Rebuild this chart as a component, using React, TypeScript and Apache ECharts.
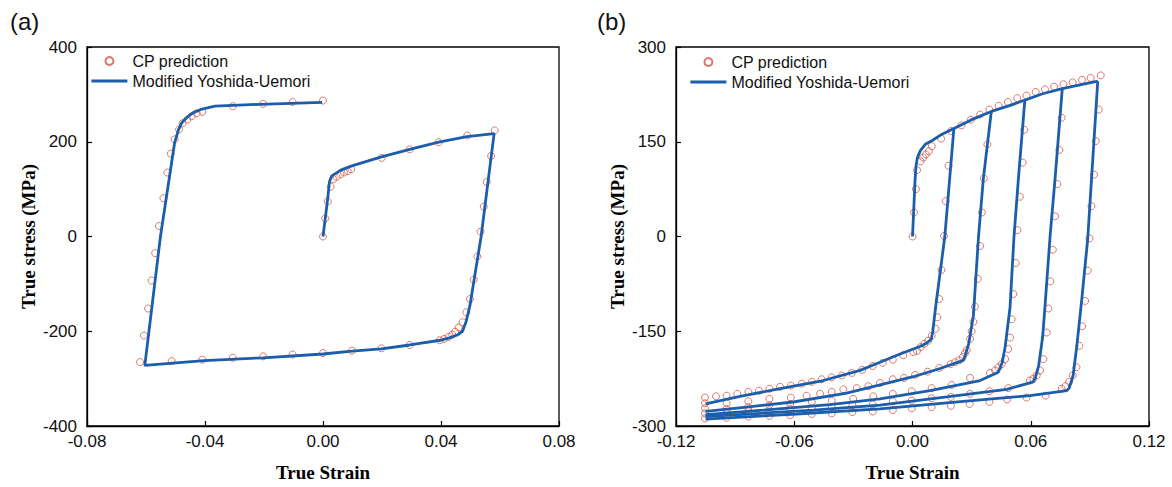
import React, { useEffect, useRef } from "react";
import * as echarts from "echarts";

// ---------- Panel (a) ----------
const xTicksA = [-0.08, -0.04, 0.0, 0.04, 0.08];
const yTicksA = [-400, -200, 0, 200, 400];

const cpA: number[][] = [
  [0, 0], [0.00075, 38], [0.0016, 74], [0.0026, 105], [0.0035, 121], [0.0046, 126], [0.0059, 131], [0.0071, 135], [0.0084, 138], [0.0096, 142],
  [0.0199, 166], [0.0294, 184], [0.0392, 199], [0.0489, 213], [0.0582, 224],
  [0.057, 170], [0.0555, 115], [0.0545, 63], [0.0534, 10], [0.0523, -42], [0.0511, -91], [0.0498, -132], [0.0486, -160], [0.0473, -181], [0.046, -192],
  [0.0448, -201], [0.0438, -207], [0.0426, -212], [0.0411, -216], [0.0396, -219],
  [0.0294, -229], [0.0198, -236], [0.0098, -241], [0, -246], [-0.0103, -249], [-0.0203, -253], [-0.0306, -256], [-0.0409, -260], [-0.0513, -263], [-0.062, -265],
  [-0.0607, -209], [-0.0593, -152], [-0.0581, -93], [-0.0569, -35], [-0.0556, 22], [-0.0541, 81], [-0.0528, 135], [-0.0516, 175], [-0.0503, 205],
  [-0.0488, 226], [-0.0476, 239], [-0.046, 247], [-0.0445, 254], [-0.0428, 260], [-0.0409, 263], [-0.0306, 275], [-0.0203, 280], [-0.0103, 284], [0, 287],
];

const myA: number[][] = [
  [0, 0], [0.0008, 40], [0.0016, 80], [0.0022, 116], [0.003, 128], [0.006, 140], [0.0098, 149], [0.0198, 168], [0.0294, 184], [0.0392, 199], [0.0488, 211], [0.058, 217],
  [0.0536, 0], [0.0498, -146], [0.0485, -180], [0.0473, -200], [0.0455, -208], [0.0429, -214], [0.0398, -219], [0.0294, -229], [0.0198, -237], [0.0098, -242],
  [0, -248], [-0.0203, -256], [-0.0403, -262], [-0.0604, -272],
  [-0.0551, 0], [-0.0503, 198], [-0.049, 225], [-0.0479, 240], [-0.046, 252], [-0.0441, 261], [-0.041, 269], [-0.0366, 275], [-0.0216, 279], [-0.0003, 283],
];

// ---------- Panel (b) ----------
const xTicksB = [-0.12, -0.06, 0.0, 0.06, 0.12];
const yTicksB = [-300, -150, 0, 150, 300];

const cpBMono: number[][] = [
  [0, 0], [0.0008, 38], [0.0017, 75], [0.0023, 105], [0.0041, 119], [0.0054, 125], [0.0068, 130], [0.0083, 135], [0.0098, 143], [0.0145, 155], [0.0196, 167],
  [0.0249, 176], [0.0296, 185], [0.0343, 193], [0.039, 201], [0.0437, 207], [0.0484, 213], [0.0531, 219], [0.0578, 223], [0.0625, 229], [0.0672, 233],
  [0.0719, 237], [0.0766, 241], [0.0813, 244], [0.086, 248], [0.0904, 251], [0.0955, 255],
];
const cpB1: number[][] = [
  [0.0183, 112], [0.0168, 56], [0.016, 1], [0.0147, -53], [0.0136, -99], [0.0126, -128], [0.0117, -146], [0.0098, -157], [0.0079, -165], [0.006, -170],
  [0.0041, -175], [0.0023, -181], [0.0004, -183], [-0.0047, -188], [-0.01, -195], [-0.0151, -200], [-0.0202, -205], [-0.0255, -211], [-0.0308, -216],
  [-0.0359, -220], [-0.041, -223], [-0.0461, -226], [-0.0511, -230], [-0.0562, -233], [-0.0617, -236], [-0.0672, -238], [-0.0726, -241], [-0.0779, -244],
  [-0.0833, -246], [-0.0889, -249], [-0.0943, -252], [-0.0997, -253], [-0.1053, -255],
];
const cpB2: number[][] = [
  [0.038, 146], [0.0362, 92], [0.0352, 38], [0.0343, -15], [0.0331, -67], [0.0317, -111], [0.0309, -135], [0.03, -150], [0.0292, -162], [0.0275, -180],
  [0.0266, -185], [0.0255, -191], [0.0237, -196], [0.0216, -199], [0.0194, -202], [0.0136, -208], [0.0077, -214], [0.0013, -219], [-0.0043, -224],
  [-0.01, -226], [-0.0165, -232], [-0.0224, -237], [-0.0283, -240], [-0.0351, -242], [-0.041, -246], [-0.0469, -249], [-0.0537, -252], [-0.0617, -255],
  [-0.0726, -257], [-0.0833, -261], [-0.0943, -264], [-0.1053, -264],
];
const cpB3: number[][] = [
  [0.0567, 169], [0.0559, 117], [0.0545, 63], [0.0532, 10], [0.0524, -42], [0.0512, -91], [0.0503, -131], [0.0495, -160], [0.0486, -178], [0.047, -194],
  [0.0453, -202], [0.0436, -207], [0.0419, -212], [0.0393, -216], [0.0292, -224], [0.0199, -235], [0.0097, -240], [-0.0004, -245], [-0.01, -249],
  [-0.0199, -253], [-0.0301, -257], [-0.041, -260], [-0.0511, -262], [-0.0621, -265], [-0.0726, -267], [-0.0833, -270], [-0.0943, -273], [-0.1053, -272],
];
const cpB4: number[][] = [
  [0.0757, 188], [0.0745, 137], [0.0735, 83], [0.0724, 32], [0.0712, -21], [0.07, -71], [0.069, -114], [0.0681, -152], [0.0664, -194], [0.0647, -212],
  [0.063, -220], [0.0613, -225], [0.0596, -228], [0.0486, -240], [0.039, -245], [0.0292, -249], [0.0195, -254], [0.0097, -256], [-0.0004, -260],
  [-0.01, -261], [-0.0202, -266], [-0.0305, -267], [-0.041, -270], [-0.0511, -272], [-0.0621, -273], [-0.0726, -275], [-0.0833, -276], [-0.0943, -278],
  [-0.1053, -280],
];
const cpB5: number[][] = [
  [0.0945, 201], [0.093, 151], [0.0921, 98], [0.0908, 48], [0.0898, -3], [0.0889, -54], [0.0876, -102], [0.0861, -142], [0.0847, -173], [0.0832, -207],
  [0.0813, -220], [0.0795, -230], [0.0776, -237], [0.0757, -241], [0.0676, -252], [0.0579, -255], [0.048, -258], [0.039, -262], [0.029, -265],
  [0.0195, -268], [0.0097, -270], [-0.0004, -272], [-0.01, -275], [-0.0202, -277], [-0.0305, -278], [-0.041, -280], [-0.0511, -281], [-0.0621, -283],
  [-0.0726, -284], [-0.0833, -285], [-0.0943, -287], [-0.1053, -288],
];

const myBMono: number[][] = [
  [0, 0], [0.0006, 40], [0.0013, 90], [0.0018, 112], [0.0025, 125], [0.004, 136], [0.0065, 146], [0.01, 152], [0.015, 162], [0.021, 171], [0.03, 185],
  [0.04, 198], [0.05, 208], [0.057, 216], [0.066, 226], [0.076, 234], [0.085, 240], [0.094, 246],
];
const myB1: number[][] = [
  [0.021, 171], [0.0164, 0], [0.0118, -110], [0.0103, -150], [0.0095, -163], [0.007, -169], [0.0047, -173], [-0.0063, -186], [-0.0165, -199],
  [-0.0266, -212], [-0.0453, -228], [-0.0672, -241], [-0.0875, -253], [-0.105, -265],
];
const myB2: number[][] = [
  [0.04, 198], [0.0359, 90], [0.0335, 0], [0.0309, -125], [0.0285, -170], [0.0268, -188], [0.0258, -196], [0.014, -209], [0.0004, -222], [-0.0165, -235],
  [-0.0334, -248], [-0.0605, -262], [-0.0841, -270], [-0.105, -277],
];
const myB3: number[][] = [
  [0.057, 216], [0.0537, 90], [0.0515, 0], [0.0495, -112], [0.047, -175], [0.0455, -200], [0.0435, -215], [0.0343, -228], [0.0089, -244],
  [-0.0165, -257], [-0.0419, -266], [-0.0757, -275], [-0.105, -282],
];
const myB4: number[][] = [
  [0.076, 234], [0.0723, 90], [0.0698, 0], [0.0672, -112], [0.066, -160], [0.064, -205], [0.0625, -222], [0.0613, -230], [0.0478, -242],
  [0.0174, -254], [-0.0165, -267], [-0.0503, -275], [-0.105, -285],
];
const myB5: number[][] = [
  [0.094, 246], [0.0889, -4], [0.0859, -99], [0.0835, -170], [0.0815, -220], [0.0795, -240], [0.0783, -244], [0.0596, -252], [0.0258, -261],
  [-0.0165, -273], [-0.0588, -281], [-0.105, -289],
];

const CP_NAME = "CP prediction";
const MY_NAME = "Modified Yoshida-Uemori";
const RED = "#d5574a";
const BLUE = "#1b5eab";
const SANS = "'Liberation Sans', Arial, sans-serif";
const SERIF = "'Liberation Serif', 'Times New Roman', serif";

function xAxisCfg(idx: number, ticks: number[]) {
  return {
    type: "value",
    gridIndex: idx,
    min: ticks[0],
    max: ticks[ticks.length - 1],
    interval: ticks[1] - ticks[0],
    name: "True Strain",
    nameLocation: "middle",
    nameGap: 37,
    nameTextStyle: { fontFamily: SERIF, fontWeight: "bold", fontSize: 19, color: "#000" },
    axisLine: { show: true, onZero: false, lineStyle: { color: "#000", width: 1.3 } },
    axisTick: { show: true, inside: true, length: 5, lineStyle: { color: "#000", width: 1.2 } },
    axisLabel: {
      show: true,
      margin: 7,
      fontFamily: SANS,
      fontSize: 17,
      color: "#111",
      showMinLabel: true,
      showMaxLabel: true,
      formatter: (v: number) => (Math.abs(v) < 1e-9 ? "0.00" : v.toFixed(2)),
    },
    splitLine: { show: false },
  };
}

function yAxisCfg(idx: number, ticks: number[]) {
  return {
    type: "value",
    gridIndex: idx,
    min: ticks[0],
    max: ticks[ticks.length - 1],
    interval: ticks[1] - ticks[0],
    name: "True stress (MPa)",
    nameLocation: "middle",
    nameGap: 49,
    nameTextStyle: { fontFamily: SERIF, fontWeight: "bold", fontSize: 19, color: "#000" },
    axisLine: { show: true, onZero: false, lineStyle: { color: "#000", width: 1.3 } },
    axisTick: { show: true, inside: true, length: 5, lineStyle: { color: "#000", width: 1.2 } },
    axisLabel: {
      show: true,
      margin: 10,
      fontFamily: SANS,
      fontSize: 17,
      color: "#111",
      showMinLabel: true,
      showMaxLabel: true,
    },
    splitLine: { show: false },
  };
}

function cpSeries(idx: number, data: number[][]) {
  return {
    type: "scatter",
    name: CP_NAME,
    xAxisIndex: idx,
    yAxisIndex: idx,
    data,
    symbol: "circle",
    symbolSize: 7,
    itemStyle: { color: "rgba(255,255,255,0)", borderColor: RED, borderWidth: 1 },
    z: 2,
  };
}

function mySeries(idx: number, data: number[][]) {
  return {
    type: "line",
    name: MY_NAME,
    xAxisIndex: idx,
    yAxisIndex: idx,
    data,
    showSymbol: false,
    symbol: "none",
    smooth: false,
    lineStyle: { color: BLUE, width: 2.8 },
    itemStyle: { color: BLUE },
    z: 3,
  };
}

function legendCfg(left: number, top: number) {
  return {
    left,
    top,
    orient: "vertical",
    padding: 0,
    itemGap: 4,
    itemWidth: 36,
    itemHeight: 8,
    data: [
      { name: CP_NAME },
      { name: MY_NAME, itemStyle: { opacity: 0 }, lineStyle: { color: BLUE, width: 2.8 } },
    ],
    textStyle: { fontFamily: SANS, fontSize: 16, color: "#111" },
    selectedMode: false,
  };
}

export default function App() {
  const ref = useRef<HTMLDivElement>(null);
  useEffect(() => {
    if (!ref.current) return;
    const chart = echarts.init(ref.current, null, { renderer: "svg" });
    const option: any = {
      animation: false,
      backgroundColor: "#fff",
      grid: [
        { left: 87, top: 47, width: 472, height: 380, show: true, borderColor: "#000", borderWidth: 1.3, backgroundColor: "transparent", containLabel: false },
        { left: 676, top: 47, width: 473, height: 380, show: true, borderColor: "#000", borderWidth: 1.3, backgroundColor: "transparent", containLabel: false },
      ],
      xAxis: [xAxisCfg(0, xTicksA), xAxisCfg(1, xTicksB)],
      yAxis: [yAxisCfg(0, yTicksA), yAxisCfg(1, yTicksB)],
      legend: [legendCfg(90, 53), legendCfg(689, 54)],
      graphic: [
        { type: "text", left: 10, top: 9, style: { text: "(a)", fontFamily: SANS, fontSize: 24, fill: "#111" } },
        { type: "text", left: 597, top: 9, style: { text: "(b)", fontFamily: SANS, fontSize: 24, fill: "#111" } },
      ],
      series: [
        cpSeries(0, cpA),
        mySeries(0, myA),
        cpSeries(1, cpBMono),
        cpSeries(1, cpB1),
        cpSeries(1, cpB2),
        cpSeries(1, cpB3),
        cpSeries(1, cpB4),
        cpSeries(1, cpB5),
        mySeries(1, myBMono),
        mySeries(1, myB1),
        mySeries(1, myB2),
        mySeries(1, myB3),
        mySeries(1, myB4),
        mySeries(1, myB5),
      ],
    };
    chart.setOption(option);
    return () => chart.dispose();
  }, []);
  return (
    <div
      ref={ref}
      style={{ position: "fixed", left: 0, top: 0, width: 1172, height: 487, background: "#fff" }}
    />
  );
}
